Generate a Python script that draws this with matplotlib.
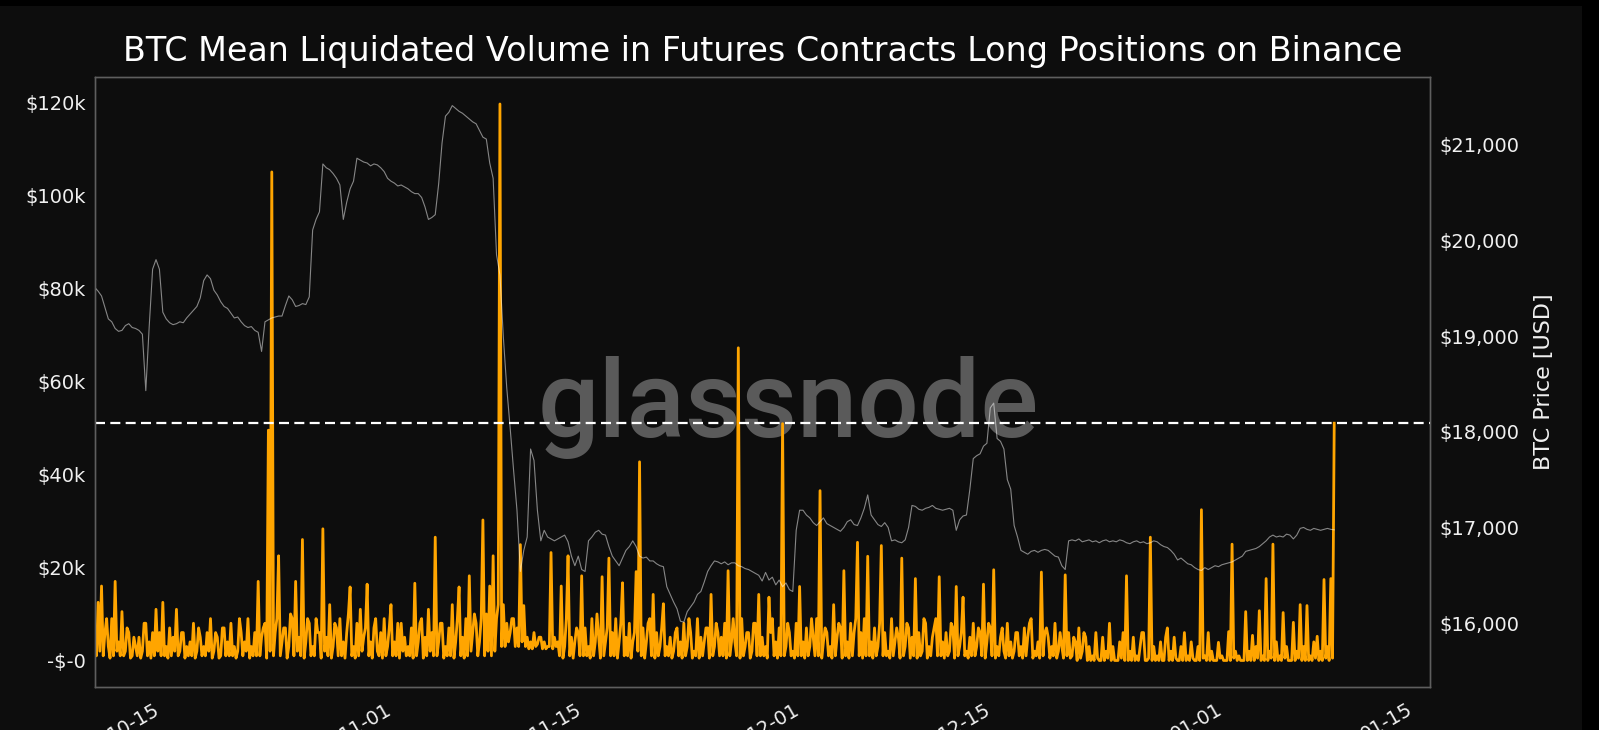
import matplotlib
matplotlib.use("Agg")
import matplotlib.pyplot as plt
import matplotlib.dates as mdates
from matplotlib.patches import Rectangle
from matplotlib.ticker import FixedLocator, FixedFormatter
import numpy as np
import pandas as pd

# ---------------- data ----------------
# BTC mean liquidated volume of long positions (USD thousands), 3-hourly from 2022-10-10
liq_start = "2022-10-10 00:00"
liq_k = [
    4, 1, 12.5, 2, 16, 1, 6, 9,        3, 0.5, 9, 1, 17, 2, 4, 1,
    10.5, 1, 2, 7, 6, 0.5, 1, 5,       3, 1, 5, 0.5, 2, 8, 8, 1,
    4, 0.5, 6, 1, 11, 2, 6, 1,         12.5, 1, 3, 0.5, 7, 1, 5, 2,
    11, 1, 2, 6, 6, 0.5, 3, 1,         4, 1, 8, 0.5, 2, 7, 5, 1,
    3, 1, 6, 2, 9, 0.5, 2, 6,          5, 0.5, 1, 7, 7, 1, 4, 1,
    8, 1, 3, 0.5, 2, 9, 6, 1,          4, 2, 9, 0.5, 3, 1, 6, 1,
    17, 1, 5, 7, 8, 0.5, 49.5, 2,      105, 1, 6, 9, 22.5, 1, 4, 7,
    7, 0.5, 3, 10, 9, 1, 17, 2,        5, 1, 26, 0.5, 4, 9, 8, 1,
    3, 1, 9, 6, 6, 0.5, 28.3, 2,       5, 1, 12, 0.5, 3, 8, 7, 1,
    9, 1, 4, 0.5, 6, 10, 15.8, 1,      3, 0.5, 8, 1, 11, 2, 5, 7,
    16.4, 1, 4, 0.5, 7, 9, 2, 1,       6, 0.5, 9, 1, 3, 7, 12, 1,
    4, 1, 8, 0.5, 8, 2, 5, 1,          3, 1, 7, 0.5, 16.6, 1, 4, 8,
    9, 0.5, 5, 1, 11, 2, 6, 1,         26.5, 1, 4, 8, 8, 0.5, 3, 1,
    7, 1, 12, 0.5, 4, 9, 15.8, 1,      5, 0.5, 9, 1, 18.2, 2, 6, 10,
    8, 1, 4, 9, 30.2, 1, 10, 2,        16, 1, 22.5, 2, 9, 12, 119.6, 3,
    12, 3, 8, 4, 6, 9, 9, 3,           7, 3, 24.9, 4, 11.8, 3, 5, 2.5,
    4, 2.5, 6, 3, 3.5, 5, 5, 2.5,      4, 2.5, 3, 3, 23.2, 2.5, 5, 3,
    4, 1, 16, 0.5, 3, 9, 22.5, 1,      5, 0.5, 4, 7, 6, 1, 18.2, 1,
    7, 1, 3, 0.5, 9, 1, 4, 10,         5, 0.5, 18, 1, 4, 7, 22, 1,
    6, 1, 9, 0.5, 4, 8, 16.7, 1,       5, 1, 8, 0.5, 4, 6, 19.1, 2,
    42.7, 1, 7, 0.5, 4, 8, 9, 1,       14.2, 0.5, 6, 1, 3, 7, 12.2, 1,
    3, 1, 5, 0.5, 2, 6, 7, 1,          4, 0.5, 8, 1, 3, 9, 6, 0.5,
    2, 1, 9, 0.5, 5, 1, 4, 7,          7, 0.5, 14.2, 1, 3, 8, 6, 1,
    5, 1, 8, 0.5, 19.3, 1, 4, 9,       4, 1, 67.2, 0.5, 9, 1, 3, 6,
    6, 0.5, 2, 8, 8, 1, 14.2, 1,       5, 1, 3, 0.5, 13.6, 6, 9, 1,
    4, 0.5, 7, 1, 50.9, 1, 3, 8,       6, 1, 2, 0.5, 8, 1, 15.9, 1,
    4, 0.5, 7, 1, 3, 9, 5, 1,          9, 1, 36.5, 0.5, 4, 7, 6, 1,
    3, 0.5, 12, 1, 5, 8, 7, 0.5,       19.3, 1, 4, 0.5, 8, 1, 6, 9,
    25.4, 1, 6, 0.5, 9, 1, 22.4, 1,    4, 0.5, 7, 1, 3, 8, 24.7, 1,
    6, 1, 2, 0.5, 9, 1, 4, 7,          5, 0.5, 22, 1, 3, 8, 7, 0.5,
    5, 1, 17.6, 0.5, 6, 1, 2, 9,       8, 0.5, 3, 1, 5, 7, 9, 1,
    18, 1, 4, 0.5, 6, 1, 2, 8,         7, 0.5, 15.9, 1, 3, 6, 13.6, 1,
    2, 0.5, 5, 1, 8, 1, 3, 7,          6, 1, 16.4, 0.5, 4, 8, 7, 1,
    19.5, 0.5, 3, 1, 5, 7, 2, 0.5,     8, 1, 4, 0.5, 2, 6, 6, 1,
    3, 0.5, 7, 1, 5, 8, 9, 0.5,        2, 1, 4, 0.5, 19, 1, 6, 7,
    5, 0.5, 3, 1, 8, 0.5, 2, 6,        3, 0.5, 18.4, 1, 6, 0.5, 1, 5,
    4, 0, 7, 0.5, 2, 6, 5, 0,          3, 0, 1, 0, 6, 0.5, 0, 0,
    5, 0, 2, 0.5, 8, 0, 3, 0,          0, 0, 4, 0.5, 6, 0, 18.2, 0,
    2, 0, 5, 0, 1, 0, 3, 6,            6, 0, 0, 0.5, 26.5, 0, 3, 0,
    1, 0, 4, 0, 0, 5, 7, 0,            2, 0, 5, 0.5, 0, 0, 3, 0,
    6, 0, 1, 0, 4, 0.5, 0, 0,          3, 0, 32.4, 0.5, 1, 0, 6, 0,
    2, 0, 0, 0, 3.9, 0.5, 1, 0,        0, 0, 6.2, 0, 25, 0.5, 2, 0,
    1, 0, 0, 0, 10.5, 0, 2, 0,         5.4, 0, 3, 0.5, 10.7, 0, 1, 0,
    17.6, 0, 2, 0.5, 25, 0, 4, 0,      1, 0, 10.3, 0.5, 3, 0, 0, 0,
    8.2, 0, 2, 0.5, 12, 0, 3, 0,       11.8, 0, 1, 0, 4, 0.5, 5.2, 0,
    2, 0, 17.4, 0.5, 3, 0, 17.6, 0.5,
    51.0,
]

# BTC price (USD), 6-hourly from 2022-10-10
price_start = "2022-10-10 00:00"
price = [
    19510, 19470, 19420, 19300,   19180, 19150, 19080, 19050,
    19060, 19110, 19130, 19090,   19080, 19060, 19020, 18430,
    19100, 19700, 19800, 19700,   19250, 19180, 19140, 19120,
    19130, 19150, 19140, 19190,   19230, 19270, 19310, 19400,
    19580, 19640, 19600, 19480,   19430, 19360, 19310, 19290,
    19240, 19190, 19200, 19150,   19110, 19090, 19100, 19060,
    19040, 18840, 19150, 19170,   19190, 19200, 19210, 19210,
    19320, 19420, 19380, 19310,   19320, 19340, 19330, 19410,
    20110, 20220, 20300, 20800,   20760, 20740, 20700, 20650,
    20580, 20220, 20400, 20540,   20620, 20860, 20840, 20820,
    20810, 20780, 20800, 20790,   20760, 20720, 20650, 20620,
    20600, 20570, 20580, 20560,   20540, 20510, 20490, 20490,
    20450, 20350, 20220, 20240,   20270, 20590, 21020, 21300,
    21340, 21410, 21380, 21350,   21330, 21300, 21270, 21240,
    21220, 21150, 21080, 21060,   20810, 20650, 19850, 19640,
    18990, 18460, 18040, 17600,   17180, 16540, 16760, 16900,
    17820, 17700, 17180, 16860,   16970, 16900, 16880, 16860,
    16880, 16900, 16920, 16850,   16700, 16600, 16700, 16560,
    16540, 16860, 16900, 16950,   16970, 16930, 16920, 16800,
    16700, 16650, 16600, 16680,   16760, 16800, 16860, 16800,
    16700, 16680, 16690, 16650,   16650, 16620, 16600, 16590,
    16380, 16300, 16220, 16150,   16020, 16010, 16120, 16170,
    16220, 16300, 16330, 16430,   16540, 16600, 16650, 16640,
    16620, 16640, 16610, 16630,   16630, 16600, 16590, 16570,
    16560, 16540, 16520, 16500,   16440, 16530, 16450, 16480,
    16400, 16450, 16380, 16420,   16350, 16330, 16970, 17180,
    17180, 17130, 17100, 17050,   17020, 17060, 17100, 17040,
    17020, 17000, 16980, 16960,   17000, 17060, 17080, 17030,
    17020, 17100, 17200, 17340,   17130, 17080, 17030, 17010,
    17050, 17000, 16860, 16870,   16850, 16840, 16870, 17000,
    17230, 17220, 17190, 17180,   17200, 17210, 17230, 17200,
    17190, 17180, 17190, 17200,   17180, 16970, 17080, 17120,
    17130, 17400, 17720, 17750,   17770, 17850, 17880, 18250,
    18300, 17930, 17900, 17820,   17500, 17400, 17020, 16900,
    16760, 16740, 16720, 16750,   16760, 16740, 16760, 16770,
    16760, 16730, 16700, 16690,   16600, 16560, 16860, 16870,
    16860, 16880, 16850, 16860,   16870, 16850, 16860, 16840,
    16860, 16870, 16850, 16860,   16850, 16870, 16860, 16840,
    16830, 16850, 16860, 16840,   16850, 16830, 16840, 16860,
    16850, 16820, 16800, 16790,   16760, 16720, 16660, 16680,
    16650, 16620, 16610, 16580,   16560, 16550, 16580, 16560,
    16580, 16600, 16590, 16610,   16620, 16630, 16640, 16660,
    16680, 16700, 16750, 16760,   16770, 16780, 16800, 16830,
    16860, 16900, 16920, 16900,   16910, 16900, 16930, 16920,
    16880, 16920, 16990, 17000,   16980, 16970, 16990, 16980,
    16970, 16980, 16990, 16980,
    16975,
]

x_tick_dates = ["2022-10-15", "2022-11-01", "2022-11-15", "2022-12-01",
                "2022-12-15", "2023-01-01", "2023-01-15"]
x_tick_labels = ["10-15", "11-01", "11-15", "12-01", "12-15", "01-01", "01-15"]
left_ticks_k = [0, 20, 40, 60, 80, 100, 120]
left_tick_labels = ["-$-0", "$20k", "$40k", "$60k", "$80k", "$100k", "$120k"]
right_ticks = [16000, 17000, 18000, 19000, 20000, 21000]
right_tick_labels = ["$16,000", "$17,000", "$18,000", "$19,000", "$20,000", "$21,000"]

title = "BTC Mean Liquidated Volume in Futures Contracts Long Positions on Binance"

liq_dates = pd.date_range(liq_start, periods=len(liq_k), freq="3h")
price_dates = pd.date_range(price_start, periods=len(price), freq="6h")

# ---------------- figure ----------------
W, H = 1599, 730
BG = "#0d0d0d"
fig = plt.figure(figsize=(W / 100, H / 100), dpi=100, facecolor="black")
fig.patches.append(Rectangle((0, 0), 1582 / W, 724 / H, transform=fig.transFigure,
                             facecolor=BG, edgecolor="none", zorder=-10))

ax = fig.add_axes([95 / W, 1 - 687 / H, (1430 - 95) / W, (687 - 77) / H])
ax.set_facecolor(BG)
ax2 = ax.twinx()

liq = np.array(liq_k) * 1000.0
ax.plot(liq_dates, liq, color="#ffa500", lw=2.0, zorder=3)
ax.axhline(liq[-1], color="white", lw=1.6, dashes=[4.5, 2.4], zorder=4)

ax2.plot(price_dates, price, color="#ffffff", alpha=0.5, lw=0.8, zorder=2)

# watermark
ax.text(0.519, 0.41, "glassnode", transform=ax.transAxes, ha="center", va="baseline",
        fontsize=78, color="#5a5a5a", family="Roboto", fontweight=500, zorder=0)

ax.set_xlim(pd.Timestamp("2022-10-10 00:30"), pd.Timestamp("2023-01-16 00:45"))
ax.set_ylim(-5700, 125400)
ax2.set_ylim(15332, 21709)

ax.xaxis.set_major_locator(FixedLocator(mdates.date2num(pd.to_datetime(x_tick_dates))))
ax.xaxis.set_major_formatter(FixedFormatter(x_tick_labels))
ax.yaxis.set_major_locator(FixedLocator([v * 1000 for v in left_ticks_k]))
ax.yaxis.set_major_formatter(FixedFormatter(left_tick_labels))
ax2.yaxis.set_major_locator(FixedLocator(right_ticks))
ax2.yaxis.set_major_formatter(FixedFormatter(right_tick_labels))

tc = "#f0f0f0"
ax.tick_params(axis="x", length=0, pad=9, labelsize=14, labelcolor=tc)
ax.tick_params(axis="y", length=0, pad=6.5, labelsize=14, labelcolor=tc)
ax2.tick_params(axis="y", length=0, pad=7, labelsize=14, labelcolor=tc)
for lab in ax.get_xticklabels():
    lab.set_rotation(30)
    lab.set_ha("right")

for a in (ax, ax2):
    for s in a.spines.values():
        s.set_color("#5e5e5e")
        s.set_linewidth(1.0)

ax2.set_ylabel("BTC Price [USD]", color=tc, fontsize=16, labelpad=10)

fig.text(762.5 / W, 1 - 61 / H, title, ha="center", va="baseline",
         fontsize=24, color="white")

fig.savefig("out.png", dpi=100, facecolor=fig.get_facecolor())
